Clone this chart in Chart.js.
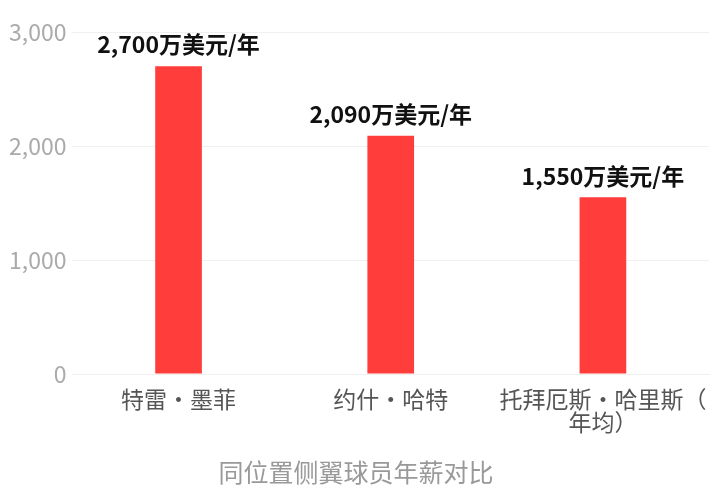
<!DOCTYPE html>
<html>
<head>
<meta charset="utf-8">
<script src="https://cdn.jsdelivr.net/npm/chart.js@4"></script>
<style>
  html, body { margin: 0; padding: 0; background: #fff; }
  #wrap { width: 719px; height: 495px; }
</style>
</head>
<body>
<div id="wrap"><canvas id="myChart"></canvas></div>
<script>
const players = ['特雷・墨菲', '约什・哈特', ['托拜厄斯・哈里斯（', '年均）']];
const salaries = [2700, 2090, 1550];
const valueLabels = ['2,700万美元/年', '2,090万美元/年', '1,550万美元/年'];
const axisTitle = '同位置侧翼球员年薪对比';

const FONT = '"Noto Sans CJK SC", "Noto Sans", sans-serif';

// 柱顶标签
const topLabels = {
  id: 'topLabels',
  afterDatasetsDraw(chart) {
    const c = chart.ctx;
    const meta = chart.getDatasetMeta(0);
    c.save();
    c.font = 'bold 23px ' + FONT;
    c.fillStyle = '#111';
    c.textAlign = 'center';
    c.textBaseline = 'bottom';
    meta.data.forEach((bar, i) => {
      c.fillText(valueLabels[i], bar.x, bar.y - 10);
    });
    c.restore();
  }
};

const ctx = document.getElementById('myChart').getContext('2d');
new Chart(ctx, {
  type: 'bar',
  data: {
    labels: players,
    datasets: [{ data: salaries, backgroundColor: '#ff3e3b', barPercentage: 0.22, categoryPercentage: 1 }]
  },
  options: {
    responsive: true,
    maintainAspectRatio: false,
    animation: false,
    layout: { padding: { top: 32, right: 10, left: 3, bottom: 8 } },
    plugins: {
      legend: { display: false },
      tooltip: { enabled: false },
      title: {
        display: true, position: 'bottom', text: axisTitle, color: '#999',
        font: { family: FONT, size: 25, weight: 'normal' }, padding: { top: 17, bottom: 0 }
      }
    },
    scales: {
      y: {
        min: 0, max: 3000,
        ticks: { stepSize: 1000, color: '#aaa', font: { family: FONT, size: 23 }, padding: 6 },
        grid: { color: '#f0f0f0', drawTicks: false },
        border: { display: false }
      },
      x: {
        ticks: { color: '#555', font: { family: FONT, size: 23, lineHeight: 1.0 }, maxRotation: 0, padding: 6 },
        grid: { display: false },
        border: { color: '#f0f0f0' }
      }
    }
  },
  plugins: [topLabels]
});
</script>
</body>
</html>
